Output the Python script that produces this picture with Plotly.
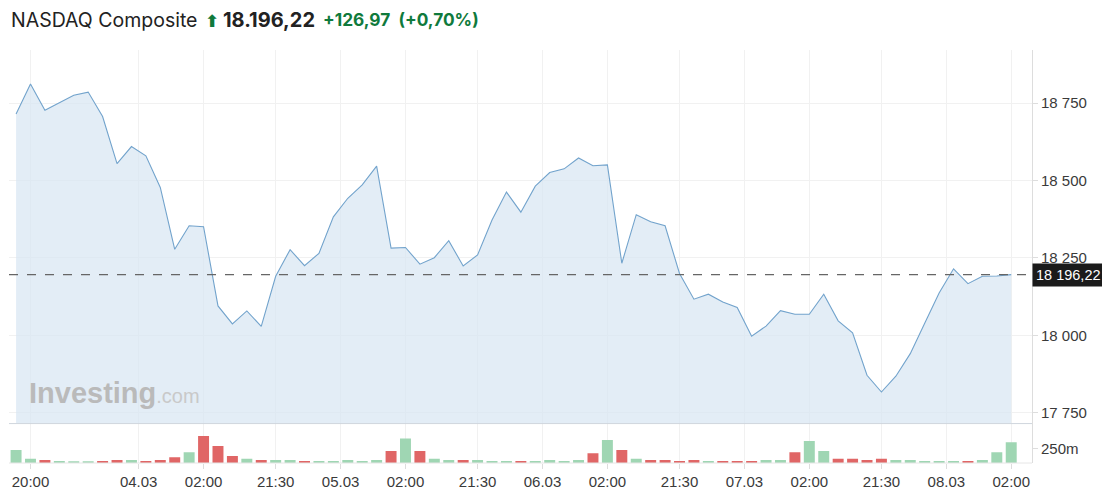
import plotly.graph_objects as go
from plotly.subplots import make_subplots

# ---- data ----
bar_index = list(range(70))
price = [18715, 18812, 18727, 18752, 18776, 18786, 18707, 18555, 18610, 18580,
         18478, 18278, 18354, 18351, 18095, 18037, 18079, 18029, 18191, 18277,
         18225, 18265, 18383, 18443, 18486, 18547, 18282, 18284, 18230, 18251,
         18306, 18224, 18260, 18373, 18463, 18398, 18482, 18526, 18538, 18573,
         18548, 18551, 18233, 18390, 18367, 18354, 18200, 18117, 18133, 18108,
         18090, 17997, 18030, 18080, 18068, 18068, 18133, 18047, 18008, 17871,
         17817, 17868, 17941, 18039, 18137, 18215, 18167, 18191, 18192, 18196.22]
volume_m = [226, 75, 52, 35, 30, 30, 35, 52, 52, 35,
            52, 99, 186, 470, 296, 122, 75, 52, 52, 52,
            35, 35, 35, 52, 35, 52, 209, 423, 209, 75,
            52, 52, 52, 35, 35, 35, 35, 52, 35, 52,
            169, 400, 226, 75, 52, 52, 35, 52, 35, 35,
            35, 35, 52, 52, 186, 383, 209, 75, 75, 52,
            75, 52, 52, 35, 35, 35, 35, 52, 186, 360]
volume_dir = list("uuduuuddud" "dduddduduu" "duuuuududu" "uduuuduuuu" "dududdddud"
                  "dduuduuddd" "duuuuuduuu")
x_tick_pos = [1, 8.5, 13, 18, 22.5, 27, 32, 36.5, 41, 46, 50.5, 55, 60, 64.5, 69]
x_tick_text = ["20:00", "04.03", "02:00", "21:30", "05.03", "02:00", "21:30", "06.03",
               "02:00", "21:30", "07.03", "02:00", "21:30", "08.03", "02:00"]
y_tick_vals = [17750, 18000, 18250, 18500, 18750]
y_tick_text = ["17 750", "18 000", "18 250", "18 500", "18 750"]
vol_tick_vals = [250]
vol_tick_text = ["250m"]
last_price = 18196.22
last_label = "18 196,22"
title_name = "NASDAQ Composite"
title_price = "18.196,22"
title_change = "+126,97  (+0,70%)"

# ---- geometry (page pixels; page body has an 8px margin) ----
OFF = 8
W, H = 1110 - OFF, 497 - OFF
L = 9 - OFF
T = 50 - OFF
R = W - (1031.7 - OFF)
B = H - (462.7 - OFF)
pw, ph = W - L - R, H - T - B
def px(x):
    return (x - OFF - L) / pw
def py(y):
    return (H - B - (y - OFF)) / ph

vol_frac = (462.7 - 423.3) / ph

fig = make_subplots(rows=2, cols=1, shared_xaxes=True, vertical_spacing=0,
                    row_heights=[1 - vol_frac, vol_frac])

fig.add_trace(go.Scatter(x=bar_index, y=price, mode="lines",
                         line=dict(color="#72a3cc", width=1.1),
                         fill="tozeroy", fillcolor="rgba(214,228,241,0.68)",
                         hoverinfo="skip", showlegend=False), row=1, col=1)

colors = ["#9fd6b3" if d == "u" else "#e06666" for d in volume_dir]
fig.add_trace(go.Bar(x=bar_index, y=volume_m, marker=dict(color=colors, line_width=0),
                     width=0.76, hoverinfo="skip", showlegend=False), row=2, col=1)

# dashed last-price line
fig.add_shape(type="line", xref="paper", x0=0, x1=1, yref="y", y0=last_price, y1=last_price,
              line=dict(color="#666666", width=1.3, dash="dash"))

xr = [-0.49, 70.44]
axis_font = dict(family="Liberation Sans, Arial", size=15, color="#3a3a3a")
fig.update_xaxes(range=xr, tickvals=x_tick_pos, ticktext=x_tick_text,
                 showgrid=True, gridcolor="#f1f1f1", gridwidth=1,
                 zeroline=False, showline=False, tickfont=axis_font)
fig.update_xaxes(showticklabels=False, ticks="", row=1, col=1)
fig.update_xaxes(ticks="outside", ticklen=5, tickcolor="#dddddd", row=2, col=1)

fig.update_yaxes(side="right", range=[17715, 18922], tickvals=y_tick_vals, ticktext=y_tick_text,
                 showgrid=True, gridcolor="#f1f1f1", zeroline=False,
                 showline=True, linecolor="#dddddd", mirror=False,
                 ticks="outside", ticklen=5, tickcolor="#dddddd", tickfont=axis_font,
                 row=1, col=1)
fig.update_yaxes(side="right", range=[0, 684], tickvals=vol_tick_vals, ticktext=vol_tick_text,
                 showgrid=False, zeroline=False,
                 showline=True, linecolor="#dddddd",
                 ticks="outside", ticklen=5, tickcolor="#dddddd", tickfont=axis_font,
                 row=2, col=1)

# separator between panes and bottom line of volume pane
fig.add_shape(type="line", xref="paper", x0=0, x1=1, yref="paper", y0=vol_frac, y1=vol_frac,
              line=dict(color="#cfd6dd", width=1))
fig.add_shape(type="line", xref="paper", x0=0, x1=1, yref="paper", y0=0, y1=0,
              line=dict(color="#e6e6e6", width=1))

ann = []
# last price label
ann.append(dict(xref="paper", x=px(1032), xanchor="left", yref="y", y=last_price, yanchor="middle",
                text=last_label, showarrow=False, bgcolor="#1b1b1b",
                font=dict(family="Liberation Sans, Arial", size=14.5, color="#ffffff"),
                borderpad=3))
# watermark
ann.append(dict(xref="paper", x=px(27), xanchor="left", yref="paper", y=py(393), yanchor="middle",
                text="<b>Investing</b><span style='font-size:20px;font-weight:normal;color:#c9c9c9'>.com</span>",
                showarrow=False,
                font=dict(family="Liberation Sans, Arial", size=29, color="#bababa")))
# header
ann.append(dict(xref="paper", x=px(9), xanchor="left", yref="paper", y=py(20), yanchor="middle",
                text=title_name, showarrow=False,
                font=dict(family="Inter, Liberation Sans", size=19.5, color="#222222")))
ann.append(dict(xref="paper", x=px(203), xanchor="left", yref="paper", y=py(21), yanchor="middle",
                text="<b>⬆</b>", showarrow=False,
                font=dict(family="DejaVu Sans", size=17, color="#0f7a3c")))
ann.append(dict(xref="paper", x=px(221), xanchor="left", yref="paper", y=py(20), yanchor="middle",
                text="<b>" + title_price + "</b>", showarrow=False,
                font=dict(family="Inter, Liberation Sans", size=20, color="#222222")))
ann.append(dict(xref="paper", x=px(321), xanchor="left", yref="paper", y=py(20), yanchor="middle",
                text="<b>" + title_change + "</b>", showarrow=False,
                font=dict(family="Inter, Liberation Sans", size=17.3, color="#0f7a3c")))

fig.update_layout(width=W, height=H, margin=dict(l=L, r=R, t=T, b=B),
                  paper_bgcolor="#ffffff", plot_bgcolor="#ffffff",
                  bargap=0.2, annotations=ann, showlegend=False)

fig.write_html("out.html")
